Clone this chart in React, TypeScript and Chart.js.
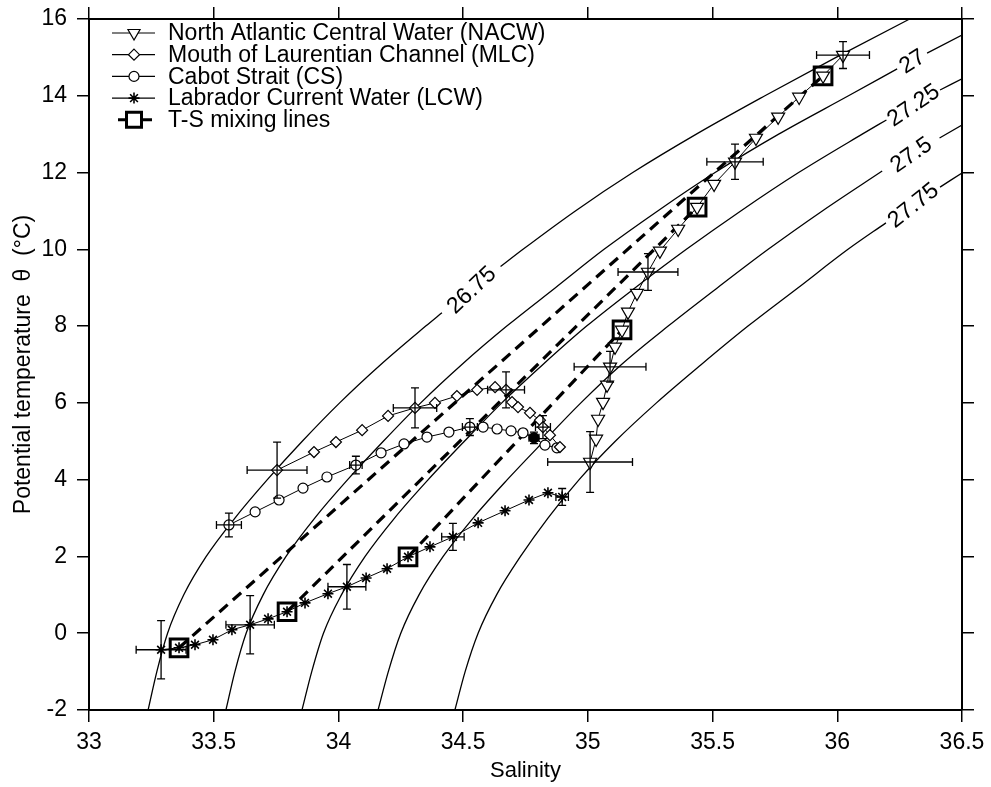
import React, { useEffect, useRef } from 'react';
import { Chart, registerables } from 'chart.js';

Chart.register(...registerables);

const FONT = 'Arial, "Liberation Sans", Helvetica, sans-serif';

// ---------- axes ----------
const xMin = 33, xMax = 36.5, xStep = 0.5;
const yMin = -2, yMax = 16, yStep = 2;

// ---------- North Atlantic Central Water (NACW) ----------
const nacwS = [36.023, 35.943, 35.847, 35.763, 35.674, 35.590, 35.506, 35.438, 35.362, 35.289, 35.241, 35.197, 35.161, 35.137, 35.109, 35.089, 35.077, 35.061, 35.041, 35.033, 35.009];
const nacwT = [15.06, 14.52, 13.97, 13.45, 12.90, 12.28, 11.70, 11.10, 10.53, 9.96, 9.41, 8.86, 8.37, 7.90, 7.46, 6.94, 6.47, 6.02, 5.58, 5.06, 4.46];
const nacwErrIdx = [0, 5, 10, 15, 20];
const nacwErrS = [0.106, 0.113, 0.12, 0.144, 0.17];
const nacwErrT = [0.35, 0.46, 0.48, 0.40, 0.79];

// ---------- Mouth of Laurentian Channel (MLC) ----------
const mlcS = [33.754, 33.902, 33.990, 34.095, 34.199, 34.307, 34.387, 34.475, 34.556, 34.628, 34.672, 34.696, 34.720, 34.768, 34.808, 34.820, 34.848, 34.888];
const mlcT = [4.25, 4.72, 4.98, 5.29, 5.66, 5.87, 6.00, 6.18, 6.34, 6.41, 6.34, 6.02, 5.89, 5.74, 5.55, 5.37, 5.16, 4.85];
const mlcErrIdx = [0, 5, 10, 15];
const mlcErrS = [0.12, 0.087, 0.074, 0.03];
const mlcErrT = [0.73, 0.52, 0.47, 0.3];

// ---------- Cabot Strait (CS) ----------
const csS = [33.561, 33.666, 33.762, 33.858, 33.954, 34.070, 34.171, 34.263, 34.355, 34.443, 34.527, 34.580, 34.636, 34.692, 34.740, 34.784, 34.828, 34.876];
const csT = [2.82, 3.16, 3.47, 3.78, 4.07, 4.38, 4.70, 4.93, 5.11, 5.24, 5.37, 5.37, 5.32, 5.27, 5.22, 5.09, 4.90, 4.83];
const csErrIdx = [0, 5, 10, 15];
const csErrS = [0.05, 0.025, 0.03, 0.02];
const csErrT = [0.31, 0.23, 0.22, 0.15];

// ---------- Labrador Current Water (LCW) ----------
const lcwS = [33.289, 33.361, 33.425, 33.497, 33.573, 33.646, 33.718, 33.794, 33.866, 33.958, 34.034, 34.111, 34.195, 34.279, 34.367, 34.459, 34.560, 34.668, 34.764, 34.840, 34.897];
const lcwT = [-0.43, -0.38, -0.30, -0.17, 0.09, 0.22, 0.375, 0.56, 0.79, 1.03, 1.21, 1.44, 1.68, 1.99, 2.25, 2.51, 2.875, 3.19, 3.47, 3.66, 3.55];
const lcwErrIdx = [0, 5, 10, 15, 20];
const lcwErrS = [0.1, 0.097, 0.076, 0.045, 0.025];
const lcwErrT = [0.76, 0.76, 0.58, 0.35, 0.22];

// ---------- T-S mixing points and lines ----------
const mixS = [33.361, 33.794, 34.279, 35.137, 35.438, 35.943];
const mixT = [-0.38, 0.56, 1.99, 7.90, 11.10, 14.52];
const mixFrom = [0, 1, 2];
const mixTo = [5, 4, 3];

// ---------- isopycnals (sigma-theta); null = gap for the label ----------
const sigmaLabels = ['26.75', '27', '27.25', '27.5', '27.75'];
const c2675S = [33.237, 33.272, 33.315, 33.38, 33.47, 33.585, 33.715, 33.855, 34.005, 34.17, 34.35, 34.415, null, 34.65, 34.74, 34.95, 35.18, 35.435, 35.71, 35.995, 36.29, 36.38];
const c2675T = [-2, -1, 0, 1, 2, 3, 4, 5, 6, 7, 8, 8.35, null, 9.55, 10, 11, 12, 13, 14, 15, 16, 16.3];
const c27S = [33.549, 33.585, 33.63, 33.698, 33.79, 33.905, 34.037, 34.18, 34.33, 34.495, 34.675, 34.87, 35.065, 35.28, 35.51, 35.765, 36.045, 36.24, null, 36.36, 36.50];
const c27T = [-2, -1, 0, 1, 2, 3, 4, 5, 6, 7, 8, 9, 10, 11, 12, 13, 14, 14.7, null, 15.11, 15.58];
const c2725S = [33.854, 33.893, 33.94, 34.012, 34.107, 34.225, 34.36, 34.505, 34.655, 34.82, 34.995, 35.19, 35.395, 35.613, 35.845, 36.10, 36.197, null, 36.412, 36.50];
const c2725T = [-2, -1, 0, 1, 2, 3, 4, 5, 6, 7, 8, 9, 10, 11, 12, 13, 13.37, null, 14.15, 14.44];
const c275S = [34.159, 34.2, 34.25, 34.323, 34.42, 34.54, 34.677, 34.823, 34.972, 35.135, 35.322, 35.52, 35.723, 35.94, 36.18, null, 36.41, 36.50];
const c275T = [-2, -1, 0, 1, 2, 3, 4, 5, 6, 7, 8, 9, 10, 11, 12.04, null, 12.9, 13.24];
const c2775S = [34.467, 34.508, 34.56, 34.634, 34.73, 34.84, 34.965, 35.11, 35.275, 35.455, 35.642, 35.843, 36.043, 36.195, null, 36.412, 36.50];
const c2775T = [-2, -1, 0, 1, 2, 3, 4, 5, 6, 7, 8, 9, 10, 10.69, null, 11.62, 11.99];

const legendTexts = [
  'North Atlantic Central Water (NACW)',
  'Mouth of Laurentian Channel (MLC)',
  'Cabot Strait (CS)',
  'Labrador Current Water (LCW)',
  'T-S mixing lines',
];
const legendMarkers = ['triDown', 'diamond', 'circle', 'star', 'square'];

// ---------- helpers ----------
const toPts = (s: (number | null)[], t: (number | null)[]) => s.map((x, i) => ({ x, y: t[i] }));

const errorSets = [
  { s: nacwS, t: nacwT, idx: nacwErrIdx, dS: nacwErrS, dT: nacwErrT },
  { s: mlcS, t: mlcT, idx: mlcErrIdx, dS: mlcErrS, dT: mlcErrT },
  { s: csS, t: csT, idx: csErrIdx, dS: csErrS, dT: csErrT },
  { s: lcwS, t: lcwT, idx: lcwErrIdx, dS: lcwErrS, dT: lcwErrT },
];

function drawMarker(ctx: CanvasRenderingContext2D, kind: string, x: number, y: number) {
  ctx.save();
  ctx.strokeStyle = '#000';
  ctx.fillStyle = '#fff';
  ctx.lineWidth = 1.2;
  ctx.beginPath();
  if (kind === 'triDown') {
    const r = 7, h = (r * Math.sqrt(3)) / 2;
    ctx.moveTo(x, y + r);
    ctx.lineTo(x - h, y - r / 2);
    ctx.lineTo(x + h, y - r / 2);
    ctx.closePath();
    ctx.fill();
    ctx.stroke();
  } else if (kind === 'diamond') {
    const r = 5.5;
    ctx.moveTo(x, y - r);
    ctx.lineTo(x + r, y);
    ctx.lineTo(x, y + r);
    ctx.lineTo(x - r, y);
    ctx.closePath();
    ctx.fill();
    ctx.stroke();
  } else if (kind === 'circle') {
    ctx.arc(x, y, 5, 0, Math.PI * 2);
    ctx.fill();
    ctx.stroke();
  } else if (kind === 'star') {
    const r = 5.5, d = r * Math.SQRT1_2;
    ctx.lineWidth = 1.6;
    ctx.moveTo(x - r, y); ctx.lineTo(x + r, y);
    ctx.moveTo(x, y - r); ctx.lineTo(x, y + r);
    ctx.moveTo(x - d, y - d); ctx.lineTo(x + d, y + d);
    ctx.moveTo(x - d, y + d); ctx.lineTo(x + d, y - d);
    ctx.stroke();
  } else if (kind === 'square') {
    const h = 7.5;
    ctx.lineWidth = 3;
    ctx.rect(x - h, y - h, 2 * h, 2 * h);
    ctx.fill();
    ctx.stroke();
  }
  ctx.restore();
}

const errorBarPlugin = {
  id: 'errorBars',
  afterDatasetsDraw(chart: any) {
    const { ctx } = chart;
    const xs = chart.scales.x, ys = chart.scales.y;
    const cap = 4;
    ctx.save();
    ctx.strokeStyle = '#000';
    ctx.lineWidth = 1.3;
    errorSets.forEach((set) => {
      set.idx.forEach((i, k) => {
        const px = xs.getPixelForValue(set.s[i]);
        const py = ys.getPixelForValue(set.t[i]);
        const xl = xs.getPixelForValue(set.s[i] - set.dS[k]);
        const xr = xs.getPixelForValue(set.s[i] + set.dS[k]);
        const yt = ys.getPixelForValue(set.t[i] + set.dT[k]);
        const yb = ys.getPixelForValue(set.t[i] - set.dT[k]);
        ctx.beginPath();
        ctx.moveTo(xl, py); ctx.lineTo(xr, py);
        ctx.moveTo(xl, py - cap); ctx.lineTo(xl, py + cap);
        ctx.moveTo(xr, py - cap); ctx.lineTo(xr, py + cap);
        ctx.moveTo(px, yt); ctx.lineTo(px, yb);
        ctx.moveTo(px - cap, yt); ctx.lineTo(px + cap, yt);
        ctx.moveTo(px - cap, yb); ctx.lineTo(px + cap, yb);
        ctx.stroke();
      });
    });
    ctx.restore();
  },
};

const contourLabelPlugin = {
  id: 'contourLabels',
  afterDatasetDraw(chart: any, args: any) {
    const ds = chart.data.datasets[args.index];
    if (!ds.contourLabel) return;
    const g = ds.data.findIndex((p: any) => p.y === null);
    if (g < 1) return;
    const a = args.meta.data[g - 1], b = args.meta.data[g + 1];
    const cx = (a.x + b.x) / 2, cy = (a.y + b.y) / 2;
    const ang = Math.atan2(b.y - a.y, b.x - a.x) - (5 * Math.PI) / 180;
    const { ctx } = chart;
    ctx.save();
    ctx.beginPath();
    const ca = chart.chartArea;
    ctx.rect(ca.left, ca.top, ca.right - ca.left, ca.bottom - ca.top);
    ctx.clip();
    ctx.translate(cx, cy);
    ctx.rotate(ang);
    ctx.font = `23px ${FONT}`;
    ctx.fillStyle = '#000';
    ctx.textAlign = 'center';
    ctx.textBaseline = 'middle';
    ctx.fillText(ds.contourLabel, 0, 1);
    ctx.restore();
  },
};

const legendPlugin = {
  id: 'customLegend',
  afterDraw(chart: any) {
    const { ctx, chartArea } = chart;
    const left = chartArea.left, top = chartArea.top;
    ctx.save();
    legendTexts.forEach((text, i) => {
      const y = top + 14 + i * 21.7;
      ctx.strokeStyle = '#000';
      ctx.beginPath();
      if (legendMarkers[i] === 'square') {
        ctx.lineWidth = 3;
        ctx.moveTo(left + 29, y); ctx.lineTo(left + 63, y);
      } else {
        ctx.lineWidth = 1.2;
        ctx.moveTo(left + 23, y); ctx.lineTo(left + 66, y);
      }
      ctx.stroke();
      drawMarker(ctx, legendMarkers[i], left + 45, y);
      ctx.fillStyle = '#000';
      ctx.font = `23px ${FONT}`;
      ctx.textAlign = 'left';
      ctx.textBaseline = 'middle';
      ctx.fillText(text, left + 79, y + 1);
    });
    ctx.restore();
  },
};

export default function App() {
  const ref = useRef<HTMLCanvasElement>(null);

  useEffect(() => {
    const canvas = ref.current;
    if (!canvas) return;

    const contourSets = [
      [c2675S, c2675T],
      [c27S, c27T],
      [c2725S, c2725T],
      [c275S, c275T],
      [c2775S, c2775T],
    ];

    const seriesBase = {
      showLine: true,
      borderColor: '#000',
      borderWidth: 1,
      pointBorderColor: '#000',
      pointBackgroundColor: '#fff',
      pointBorderWidth: 1.2,
      tension: 0,
    };

    const csFill = csS.map((_, i) => (i === 15 ? '#000' : '#fff'));

    const datasets: any[] = [
      {
        label: 'T-S mixing points',
        data: toPts(mixS, mixT),
        showLine: false,
        pointStyle: 'rect',
        pointRadius: 12.5,
        pointBorderWidth: 3,
        pointBorderColor: '#000',
        pointBackgroundColor: 'rgba(0,0,0,0)',
      },
      { ...seriesBase, label: 'NACW', data: toPts(nacwS, nacwT), pointStyle: 'triangle', pointRotation: 180, pointRadius: 7.5 },
      { ...seriesBase, label: 'MLC', data: toPts(mlcS, mlcT), pointStyle: 'rectRot', pointRadius: 5.5 },
      { ...seriesBase, label: 'CS', data: toPts(csS, csT), pointStyle: 'circle', pointRadius: 5, pointBackgroundColor: csFill },
      { ...seriesBase, label: 'LCW', data: toPts(lcwS, lcwT), pointStyle: 'star', pointRadius: 5.5, pointBorderWidth: 1.6 },
      ...mixFrom.map((f, k) => ({
        label: 'mixing line ' + k,
        data: [
          { x: mixS[f], y: mixT[f] },
          { x: mixS[mixTo[k]], y: mixT[mixTo[k]] },
        ],
        showLine: true,
        borderColor: '#000',
        borderWidth: 3.2,
        borderDash: [11, 7],
        pointRadius: 0,
      })),
      ...contourSets.map(([s, t], k) => ({
        label: 'sigma ' + sigmaLabels[k],
        contourLabel: sigmaLabels[k],
        data: toPts(s as any, t as any),
        showLine: true,
        spanGaps: false,
        borderColor: '#000',
        borderWidth: 1.3,
        pointRadius: 0,
        cubicInterpolationMode: 'monotone',
      })),
    ];

    const tickFont = { family: FONT, size: 23 };
    const gridOpts = { drawOnChartArea: false, drawTicks: true, tickLength: 12, color: '#000', lineWidth: 1.5 };
    const borderOpts = { display: true, color: '#000', width: 2 };

    const chart = new Chart(canvas, {
      type: 'scatter',
      data: { datasets },
      plugins: [contourLabelPlugin, errorBarPlugin, legendPlugin],
      options: {
        animation: false,
        responsive: false,
        devicePixelRatio: 1,
        events: [],
        layout: { padding: 0 },
        plugins: { legend: { display: false }, tooltip: { enabled: false } },
        scales: {
          x: {
            type: 'linear',
            position: 'bottom',
            min: xMin,
            max: xMax,
            ticks: { stepSize: xStep, font: tickFont, color: '#000', padding: 7, maxRotation: 0, autoSkip: false, callback: (v: any) => String(v) },
            grid: gridOpts,
            border: borderOpts,
            title: { display: true, text: 'Salinity', font: { family: FONT, size: 22 }, color: '#000', padding: { top: 0, bottom: 3 } },
            afterFit: (s: any) => { s.height = 77; s.paddingLeft = 0; s.paddingRight = 0; },
          },
          x2: {
            type: 'linear',
            position: 'top',
            min: xMin,
            max: xMax,
            ticks: { stepSize: xStep, display: false },
            grid: gridOpts,
            border: borderOpts,
            afterFit: (s: any) => { s.height = 19; s.paddingLeft = 0; s.paddingRight = 0; },
          },
          y: {
            type: 'linear',
            position: 'left',
            min: yMin,
            max: yMax,
            ticks: { stepSize: yStep, font: tickFont, color: '#000', padding: 10, callback: (v: any) => String(v) },
            grid: gridOpts,
            border: borderOpts,
            title: { display: true, text: 'Potential temperature  θ  (°C)', font: { family: FONT, size: 23 }, color: '#000', padding: { top: 10, bottom: 0 } },
            afterFit: (s: any) => { s.width = 89; s.paddingTop = 0; s.paddingBottom = 0; },
          },
          y2: {
            type: 'linear',
            position: 'right',
            min: yMin,
            max: yMax,
            ticks: { stepSize: yStep, display: false },
            grid: gridOpts,
            border: borderOpts,
            afterFit: (s: any) => { s.width = 29; s.paddingTop = 0; s.paddingBottom = 0; },
          },
        },
      } as any,
    });

    return () => chart.destroy();
  }, []);

  return (
    <div style={{ position: 'absolute', left: 0, top: 0, width: 991, height: 787, background: '#fff' }}>
      <canvas ref={ref} width={991} height={787} style={{ display: 'block' }} />
    </div>
  );
}
